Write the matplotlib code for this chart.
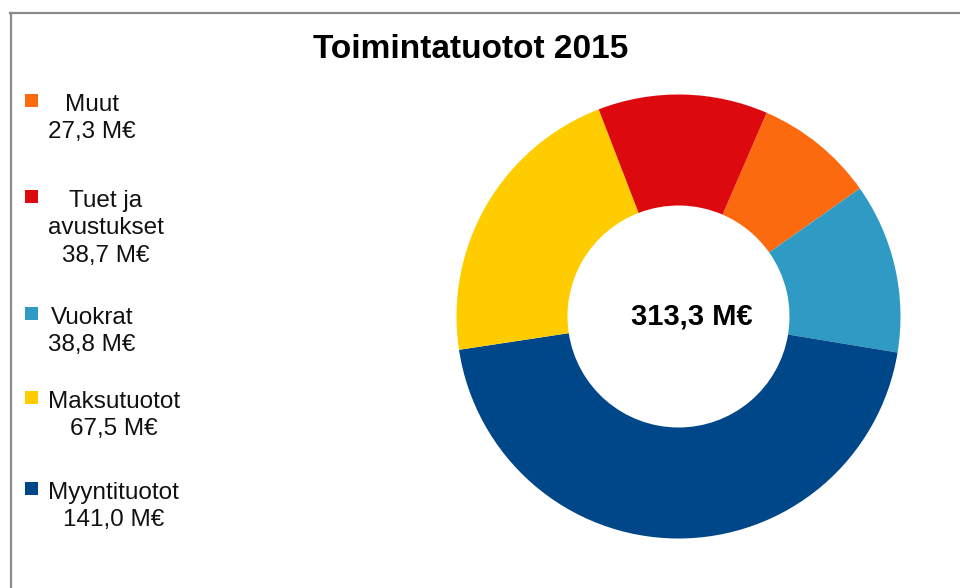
import matplotlib
matplotlib.use("Agg")
import matplotlib.pyplot as plt
from matplotlib.patches import Rectangle
from matplotlib.lines import Line2D

plt.rcParams['font.family'] = ['Liberation Sans', 'DejaVu Sans']

# legend order (top to bottom)
labels = ['Muut', 'Tuet ja\navustukset', 'Vuokrat', 'Maksutuotot', 'Myyntituotot']
values = [27.3, 38.7, 38.8, 67.5, 141.0]
colors = ['#FC6A10', '#DC0A0E', '#2F9BC5', '#FFCC00', '#00478A']
total_label = '313,3 M€'
title = 'Toimintatuotot 2015'

# order the slices appear clockwise around the ring
pie_order = [0, 2, 4, 3, 1]


def fmt(v):
    return ('%.1f' % v).replace('.', ',') + ' M€'


W, H = 960, 588
fig = plt.figure(figsize=(W / 100, H / 100), dpi=100)
fig.patch.set_facecolor('white')

# chart frame (only top and left edges are visible)
fig.add_artist(Line2D([10.5 / W, 10.5 / W], [0, 1 - 13 / H], color='#8a8a8a', lw=1.6))
fig.add_artist(Line2D([10 / W, 1], [1 - 13 / H, 1 - 13 / H], color='#8a8a8a', lw=1.6))

# donut
cx, cy, R = 678.5, 316.5, 222
ax = fig.add_axes([(cx - R) / W, 1 - (cy + R) / H, 2 * R / W, 2 * R / H])
ax.pie([values[i] for i in pie_order], colors=[colors[i] for i in pie_order],
       startangle=90 - 23.4, counterclock=False, radius=1.0,
       wedgeprops=dict(width=0.5, edgecolor='none'))
ax.set_xlim(-1, 1)
ax.set_ylim(-1, 1)
ax.set_aspect('auto')
ax.axis('off')
ax.text(0.06, 0.0, total_label, ha='center', va='center', fontsize=21, fontweight='bold')

fig.text(471 / W, 1 - 50 / H, title, ha='center', va='center', fontsize=24, fontweight='bold')

# legend
tops = [93, 189, 306, 390, 481]
for lab, v, c, t in zip(labels, values, colors, tops):
    fig.add_artist(Rectangle((25 / W, 1 - (t + 14) / H), 13 / W, 13 / H,
                             transform=fig.transFigure, facecolor=c, edgecolor='none'))
    fig.text(48 / W, 1 - (t + 1) / H, lab + '\n' + fmt(v), ha='left', va='top',
             multialignment='center', fontsize=17.5, color='#111111', linespacing=1.32)

fig.savefig('out.png', dpi=100, facecolor='white')
